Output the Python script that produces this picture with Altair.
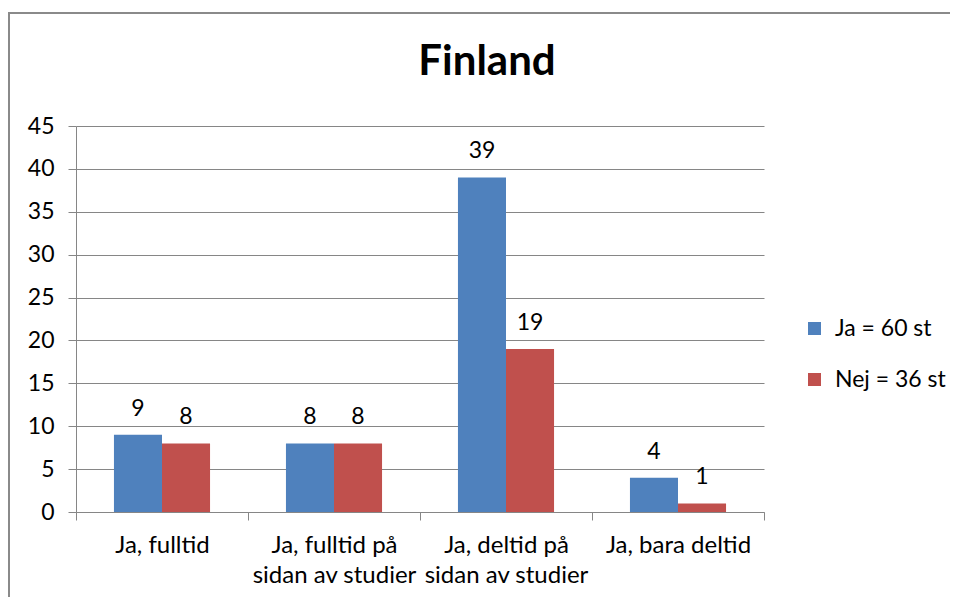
import altair as alt
import pandas as pd

categories = [
    "Ja, fulltid",
    "Ja, fulltid på sidan av studier",
    "Ja, deltid på sidan av studier",
    "Ja, bara deltid",
]
wrapped_labels = {
    "Ja, fulltid på sidan av studier": ["Ja, fulltid på", "sidan av studier"],
    "Ja, deltid på sidan av studier": ["Ja, deltid på", "sidan av studier"],
}
series = ["Ja = 60 st", "Nej = 36 st"]
ja_values = [9, 8, 39, 4]
nej_values = [8, 8, 19, 1]
colors = ["#4F81BD", "#C0504D"]
y_ticks = [0, 5, 10, 15, 20, 25, 30, 35, 40, 45]

FONT = "Lato"
GREY = "#868686"

rows = []
for c, a, b in zip(categories, ja_values, nej_values):
    rows.append({"cat": c, "series": series[0], "value": a})
    rows.append({"cat": c, "series": series[1], "value": b})
df = pd.DataFrame(rows)

label_expr = ""
for k, v in wrapped_labels.items():
    label_expr += "datum.label == '%s' ? ['%s', '%s'] : " % (k, v[0], v[1])
label_expr += "datum.label"

base = alt.Chart(df).encode(
    x=alt.X(
        "cat:N",
        sort=categories,
        scale=alt.Scale(paddingInner=0, paddingOuter=0),
        axis=alt.Axis(
            title=None,
            tickBand="extent",
            grid=False,
            tickSize=8,
            tickColor=GREY,
            domainColor=GREY,
            labelFontSize=24,
            labelFont=FONT,
            labelColor="black",
            labelPadding=13,
            labelLineHeight=30,
            labelLimit=0,
            labelAngle=0,
            labelExpr=label_expr,
        ),
    ),
    xOffset=alt.XOffset(
        "series:N", sort=series, scale=alt.Scale(paddingInner=0, paddingOuter=0.79)
    ),
    y=alt.Y(
        "value:Q",
        scale=alt.Scale(domain=[0, 45], nice=False),
        axis=alt.Axis(
            title=None,
            values=y_ticks,
            grid=True,
            gridColor=GREY,
            domainColor=GREY,
            tickColor=GREY,
            tickSize=8,
            labelFontSize=23,
            labelFont=FONT,
            labelColor="black",
            labelPadding=14,
        ),
    ),
)

bars = base.mark_bar().encode(
    color=alt.Color(
        "series:N",
        sort=series,
        scale=alt.Scale(domain=series, range=colors),
        legend=alt.Legend(
            title=None,
            orient="none",
            legendX=727,
            legendY=191,
            symbolType="square",
            symbolSize=169,
            symbolStrokeWidth=0,
            labelFontSize=23,
            labelFont=FONT,
            labelColor="black",
            rowPadding=27,
            labelOffset=9,
        ),
    )
)

texts = base.mark_text(
    baseline="alphabetic", dy=-19, fontSize=23, font=FONT, color="black"
).encode(text="value:Q")

frame = alt.Chart(pd.DataFrame({"a": [0]})).mark_rect(
    filled=False, stroke="#8a8a8a", strokeWidth=2
).encode(
    x=alt.value(-67), x2=alt.value(2000), y=alt.value(-113), y2=alt.value(2000)
)

chart = (
    alt.layer(frame, bars, texts)
    .properties(
        width=688,
        height=386,
        autosize=alt.AutoSizeParams(type="none"),
        padding={"left": 68, "top": 118, "right": 186, "bottom": 85},
        title=alt.Title(
            "Finland",
            fontSize=42,
            font=FONT,
            fontWeight="bold",
            color="black",
            anchor="middle",
            frame="group",
            dx=67,
            offset=-72,
        ),
    )
    .configure_view(stroke=None)
)

chart.save("out.html", embed_options={"renderer": "svg", "actions": False})
